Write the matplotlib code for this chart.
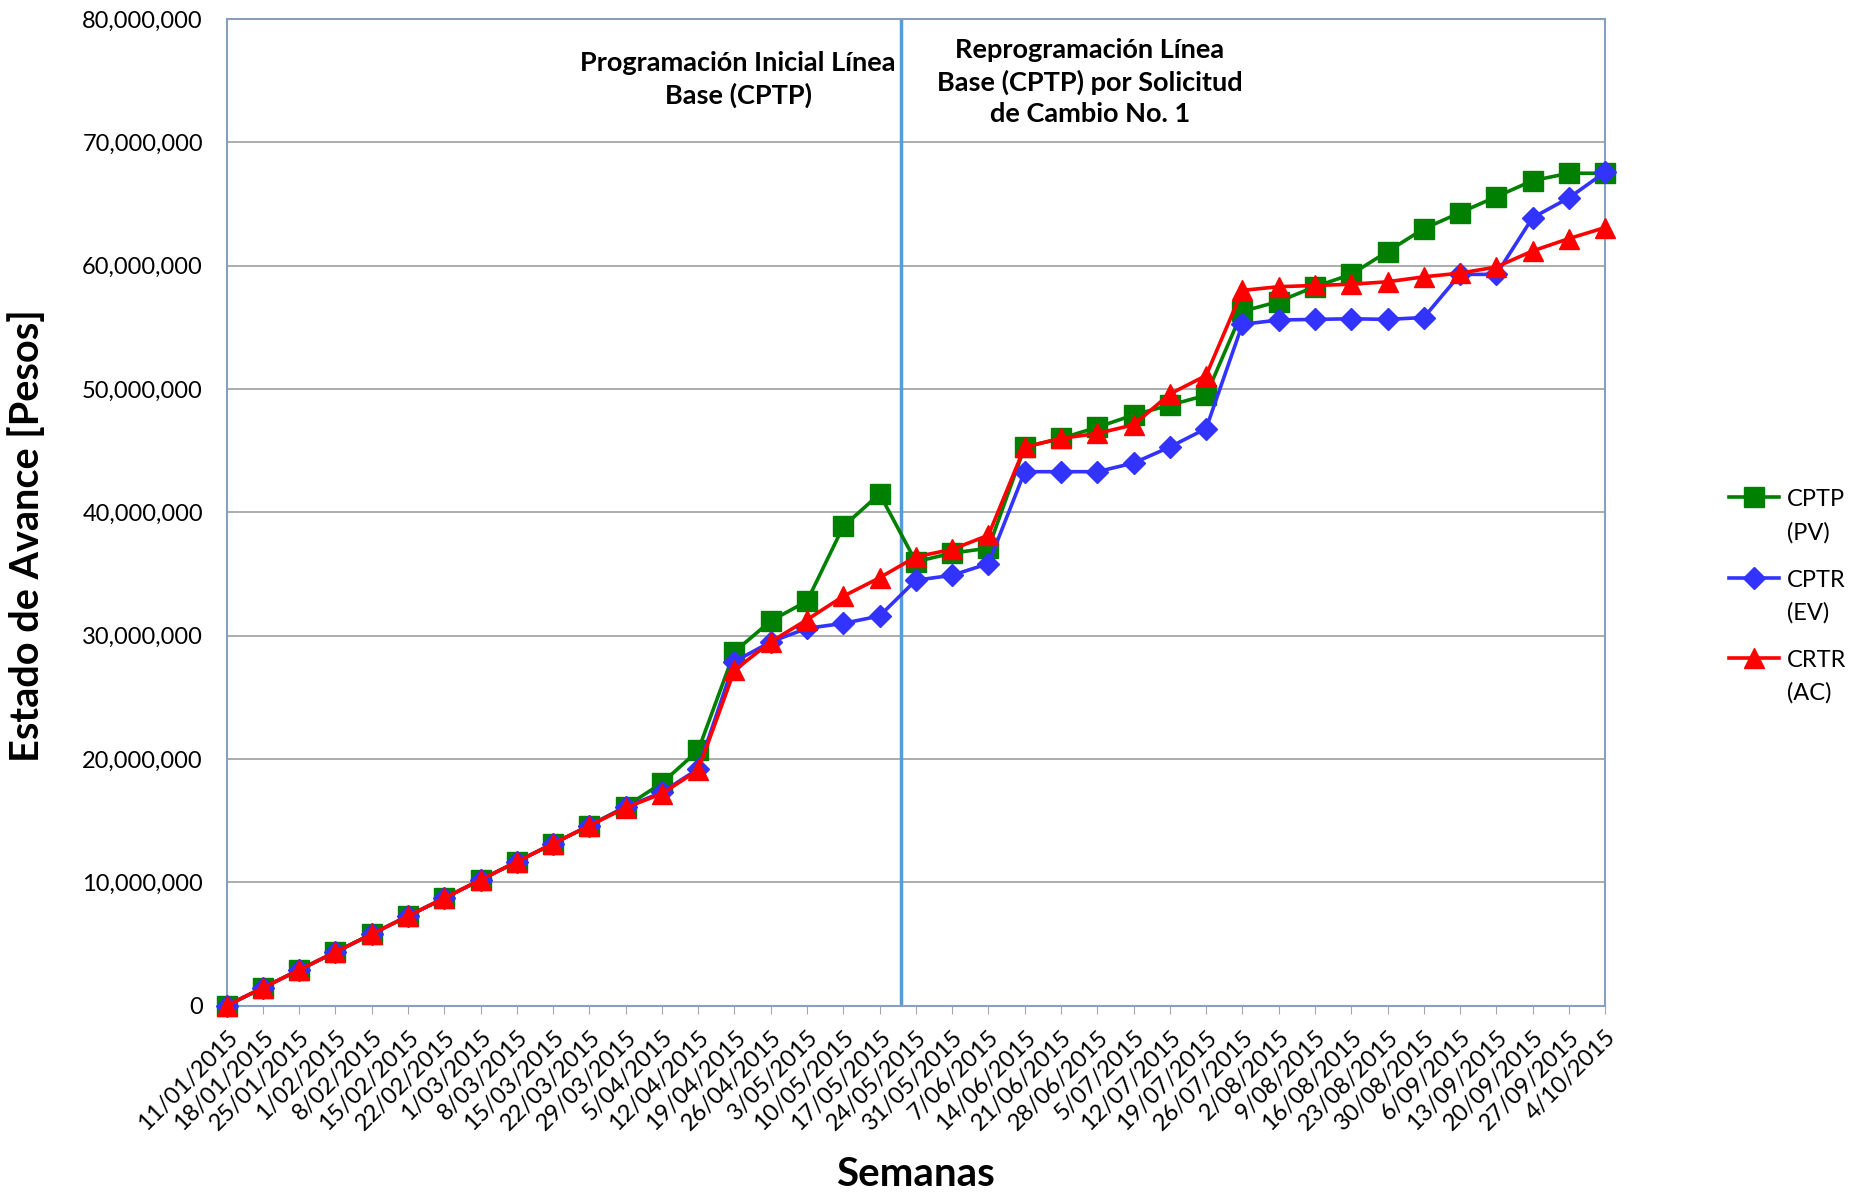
import matplotlib
matplotlib.use('Agg')
import matplotlib.pyplot as plt
from matplotlib.ticker import FuncFormatter, MultipleLocator

semanas = ['11/01/2015', '18/01/2015', '25/01/2015', '1/02/2015', '8/02/2015', '15/02/2015',
           '22/02/2015', '1/03/2015', '8/03/2015', '15/03/2015', '22/03/2015', '29/03/2015',
           '5/04/2015', '12/04/2015', '19/04/2015', '26/04/2015', '3/05/2015', '10/05/2015',
           '17/05/2015', '24/05/2015', '31/05/2015', '7/06/2015', '14/06/2015', '21/06/2015',
           '28/06/2015', '5/07/2015', '12/07/2015', '19/07/2015', '26/07/2015', '2/08/2015',
           '9/08/2015', '16/08/2015', '23/08/2015', '30/08/2015', '6/09/2015', '13/09/2015',
           '20/09/2015', '27/09/2015', '4/10/2015']

# values in millions of pesos
cptp_pv = [0, 1.45, 2.9, 4.35, 5.8, 7.27, 8.72, 10.2, 11.67, 13.14, 14.6, 16.15,
           18.05, 20.7, 28.7, 31.2, 32.8, 38.86, 41.5, 36.0, 36.7, 37.1, 45.3, 46.0,
           46.9, 47.9, 48.7, 49.5, 56.3, 57.1, 58.3, 59.3, 61.15, 63.0, 64.3, 65.6,
           66.9, 67.5, 67.5]
cptr_ev = [0, 1.45, 2.9, 4.35, 5.8, 7.27, 8.72, 10.2, 11.67, 13.14, 14.6, 16.1,
           17.3, 19.2, 27.9, 29.5, 30.6, 31.0, 31.6, 34.5, 34.9, 35.85, 43.3, 43.3,
           43.3, 44.0, 45.3, 46.8, 55.25, 55.6, 55.65, 55.7, 55.65, 55.8, 59.3, 59.3,
           63.9, 65.5, 67.6]
crtr_ac = [0, 1.45, 2.9, 4.35, 5.8, 7.27, 8.72, 10.2, 11.67, 13.14, 14.6, 16.05,
           17.2, 19.1, 27.2, 29.5, 31.3, 33.2, 34.7, 36.4, 37.0, 38.15, 45.3, 46.0,
           46.4, 47.1, 49.6, 51.1, 58.0, 58.3, 58.4, 58.5, 58.7, 59.1, 59.4, 59.9,
           61.2, 62.2, 63.1]

series_labels = ['CPTP\n(PV)', 'CPTR\n(EV)', 'CRTR\n(AC)']
cambio_pos = 18.6

FONT = ['Lato', 'DejaVu Sans']
plt.rcParams['font.family'] = FONT

fig = plt.figure(figsize=(18.6, 11.93), dpi=100)
ax = fig.add_axes([0.1218, 0.157, 0.863 - 0.1218, 0.984 - 0.157])

x = list(range(len(semanas)))
scale = 1e6
l1, = ax.plot(x, [v * scale for v in cptp_pv], color='#008000', lw=2.6, marker='s',
              markersize=14, clip_on=False, zorder=3, label=series_labels[0])
l2, = ax.plot(x, [v * scale for v in cptr_ev], color='#3333FF', lw=2.6, marker='D',
              markersize=11, clip_on=False, zorder=4, label=series_labels[1])
l3, = ax.plot(x, [v * scale for v in crtr_ac], color='#FF0000', lw=2.6, marker='^',
              markersize=15, clip_on=False, zorder=5, label=series_labels[2])

ax.axvline(cambio_pos, color='#5B9BD5', lw=2.5, zorder=2)

ax.set_xlim(0, len(semanas) - 1)
ax.set_ylim(0, 80e6)
ax.yaxis.set_major_locator(MultipleLocator(10e6))
ax.yaxis.set_major_formatter(FuncFormatter(lambda v, p: f'{v:,.0f}'))
ax.grid(axis='y', color='#A6A6A6', lw=1.3, zorder=0)
ax.set_axisbelow(True)

ax.set_xticks(x)
ax.set_xticklabels(semanas, rotation=45, ha='right', rotation_mode='anchor', fontsize=17)
ax.tick_params(axis='x', length=6, color='#A6A6A6', pad=9)
ax.tick_params(axis='y', labelsize=17, length=0, pad=17)

for s in ax.spines.values():
    s.set_color('#86A0BE')
    s.set_linewidth(1.5)

ax.set_ylabel('Estado de Avance [Pesos]', fontsize=28.5, fontweight='bold')
ax.yaxis.set_label_coords(-0.131, 0.476)
ax.set_xlabel('Semanas', fontsize=29, fontweight='bold', labelpad=16)

ax.text(14.1, 75.1e6, 'Programación Inicial Línea\nBase (CPTP)', ha='center', va='center',
        fontsize=19.5, fontweight='bold', linespacing=1.35)
ax.text(23.8, 74.9e6, 'Reprogramación Línea\nBase (CPTP) por Solicitud\nde Cambio No. 1',
        ha='center', va='center', fontsize=19.5, fontweight='bold', linespacing=1.35)

leg = fig.legend(handles=[l1, l2, l3], loc='center left', bbox_to_anchor=(0.9296, 0.50),
                 frameon=False, fontsize=17, handlelength=2.1, handletextpad=0.35,
                 labelspacing=1.12, borderpad=0, borderaxespad=0)
for t in leg.get_texts():
    t.set_linespacing(1.65)
try:
    for col in leg._legend_handle_box.get_children():
        for item in col.get_children():
            item.align = 'top'
except Exception:
    pass

fig.savefig('out.png', dpi=100)
